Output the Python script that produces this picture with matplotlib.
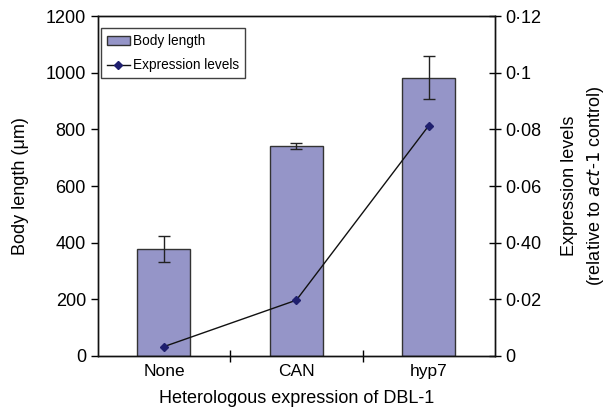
import matplotlib
matplotlib.use("Agg")
import matplotlib.pyplot as plt
import numpy as np

plt.rcParams['font.family'] = ['Liberation Sans', 'DejaVu Sans']

categories = ["None", "CAN", "hyp7"]
body_length = [378, 741, 983]
body_err = [46, 12, 77]
expression = [0.0033, 0.0197, 0.0813]
left_ticks = [0, 200, 400, 600, 800, 1000, 1200]
right_ticks = [0, 0.02, 0.04, 0.06, 0.08, 0.10, 0.12]
right_labels = ["0", "0·02", "0·40", "0·06", "0·08", "0·1", "0·12"]

fig = plt.figure(figsize=(6.11, 4.12), dpi=100)
ax = fig.add_axes([0.160, 0.136, 0.650, 0.825])
ax2 = ax.twinx()

x = np.arange(len(categories))
bars = ax.bar(x, body_length, width=0.4, color="#9595c8", edgecolor="#333333",
              linewidth=1.0, yerr=body_err, capsize=4,
              error_kw=dict(ecolor="#222222", elinewidth=1.0, capthick=1.0),
              label="Body length", zorder=2)
line, = ax2.plot(x, expression, color="#111111", linewidth=1.0, marker="D",
                 markersize=4, markerfacecolor="#1f1f6e", markeredgecolor="#1f1f6e",
                 label="Expression levels", zorder=3)

ax.set_xlim(-0.5, 2.5)
ax.set_ylim(0, 1200)
ax2.set_ylim(0, 0.12)
ax.set_yticks(left_ticks)
ax.set_yticklabels([str(v) for v in left_ticks])
ax2.set_yticks(right_ticks)
ax2.set_yticklabels(right_labels)

ax.set_xticks(x)
ax.set_xticklabels(categories)
ax.set_xticks([0.5, 1.5], minor=True)
ax.tick_params(axis='x', which='major', length=0, labelsize=12.5, pad=6)
ax.tick_params(axis='x', which='minor', length=8, direction='inout', width=1)
ax.tick_params(axis='y', length=5, direction='out', width=1, labelsize=13)
ax2.tick_params(axis='y', length=8, direction='inout', width=1, labelsize=13)

for a in (ax, ax2):
    for s in a.spines.values():
        s.set_linewidth(1.0)
        s.set_color("#111111")

ax.set_ylabel("Body length (μm)", fontsize=13, labelpad=12)
ax2.set_ylabel("Expression levels\n(relative to $\\mathit{act}$-$\\mathit{1}$ control)",
               fontsize=13, labelpad=14, linespacing=1.45)
ax.set_xlabel("Heterologous expression of DBL-1", fontsize=13, labelpad=8)

leg = ax.legend([bars, line], ["Body length", "Expression levels"],
                loc="upper left", bbox_to_anchor=(0.008, 0.965), fontsize=9.8,
                frameon=True, fancybox=False, edgecolor="#111111",
                handlelength=1.65, handleheight=0.7, borderpad=0.45,
                labelspacing=0.75, handletextpad=0.25, borderaxespad=0.0)
leg.get_frame().set_linewidth(1.0)

fig.savefig("out.png", dpi=100)
